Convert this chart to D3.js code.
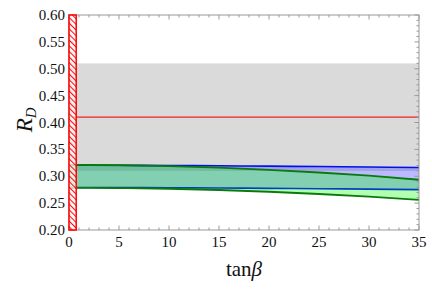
<!DOCTYPE html>
<html><head><meta charset="utf-8">
<script src="https://cdn.jsdelivr.net/npm/d3@7"></script>
<style>body{margin:0;background:#fff}svg{display:block}
.serif{font-family:"Liberation Serif","Times New Roman",Times,"DejaVu Serif","Noto Serif",serif}</style>
</head><body>
<script>
const tanBeta = [0, 5, 10, 15, 20, 25, 30, 35];
const blueUpper = [0.3205, 0.3204, 0.3200, 0.3195, 0.3188, 0.3180, 0.3172, 0.3162];
const blueLower = [0.2790, 0.2789, 0.2786, 0.2781, 0.2775, 0.2768, 0.2760, 0.2752];
const greenUpper = [0.3210, 0.3205, 0.3188, 0.3160, 0.3120, 0.3070, 0.3010, 0.2935];
const greenLower = [0.2785, 0.2780, 0.2767, 0.2744, 0.2712, 0.2670, 0.2621, 0.2562];
const expCentral = 0.41;
const expBand = [0.31, 0.51];
const excluded = [0, 0.72];
const xTicks = [0, 5, 10, 15, 20, 25, 30, 35];
const yTicks = [0.20, 0.25, 0.30, 0.35, 0.40, 0.45, 0.50, 0.55, 0.60];

const W = 432, H = 292;
const L = 69, R = 419, T = 15, B = 230;
const svg = d3.select("body").append("svg").attr("width", W).attr("height", H);
const x = d3.scaleLinear().domain([0, 35]).range([L, R]);
const y = d3.scaleLinear().domain([0.2, 0.6]).range([B, T]);

const defs = svg.append("defs");
defs.append("clipPath").attr("id", "clip").append("rect")
  .attr("x", L).attr("y", T).attr("width", R - L).attr("height", B - T);
const pat = defs.append("pattern").attr("id", "hatch").attr("patternUnits", "userSpaceOnUse")
  .attr("width", 4).attr("height", 4).attr("patternTransform", "rotate(-45)");
pat.append("rect").attr("width", 4).attr("height", 4).attr("fill", "rgba(255,255,255,0.75)");
pat.append("line").attr("x1", 0).attr("y1", 0).attr("x2", 0).attr("y2", 4)
  .attr("stroke", "#ff1010").attr("stroke-width", 2.2);

const g = svg.append("g").attr("clip-path", "url(#clip)");
g.append("rect").attr("x", L).attr("width", R - L)
  .attr("y", y(expBand[1])).attr("height", y(expBand[0]) - y(expBand[1]))
  .attr("fill", "#dadada");

const pts = tanBeta.map((t, i) => ({t, bu: blueUpper[i], bl: blueLower[i], gu: greenUpper[i], gl: greenLower[i]}));
const area = (lo, hi) => d3.area().x(d => x(d.t)).y0(d => y(d[lo])).y1(d => y(d[hi])).curve(d3.curveMonotoneX);
const line = k => d3.line().x(d => x(d.t)).y(d => y(d[k])).curve(d3.curveMonotoneX);

g.append("path").datum(pts).attr("d", area("bl", "bu")).attr("fill", "rgba(40,40,255,0.32)");
g.append("path").datum(pts).attr("d", area("gl", "gu")).attr("fill", "rgba(0,255,0,0.3)");

g.append("path").datum(pts).attr("d", line("bu")).attr("fill", "none").attr("stroke", "#0010ee").attr("stroke-width", 1.6);
g.append("path").datum(pts).attr("d", line("bl")).attr("fill", "none").attr("stroke", "#0040c0").attr("stroke-width", 1.6);
g.append("path").datum(pts).attr("d", line("gu")).attr("fill", "none").attr("stroke", "#0a7a0a").attr("stroke-width", 1.8);
g.append("path").datum(pts).attr("d", line("gl")).attr("fill", "none").attr("stroke", "#0a7a0a").attr("stroke-width", 1.8);

g.append("line").attr("x1", L).attr("x2", R).attr("y1", y(expCentral)).attr("y2", y(expCentral))
  .attr("stroke", "#ee2222").attr("stroke-width", 1.2);

const tickCol = "#999";
const ax = svg.append("g");
ax.append("rect").attr("x", L).attr("y", T).attr("width", R - L).attr("height", B - T)
  .attr("fill", "none").attr("stroke", tickCol).attr("stroke-width", 1);
d3.range(0, 35.01, 1).forEach(v => {
  const len = v % 5 === 0 ? 4.5 : 2.5;
  ax.append("line").attr("x1", x(v)).attr("x2", x(v)).attr("y1", B).attr("y2", B - len).attr("stroke", tickCol);
  ax.append("line").attr("x1", x(v)).attr("x2", x(v)).attr("y1", T).attr("y2", T + len).attr("stroke", tickCol);
});
d3.range(0, 41).forEach(i => {
  const v = 0.2 + i * 0.01;
  const len = i % 5 === 0 ? 4.5 : 2.5;
  ax.append("line").attr("y1", y(v)).attr("y2", y(v)).attr("x1", L).attr("x2", L + len).attr("stroke", tickCol);
  ax.append("line").attr("y1", y(v)).attr("y2", y(v)).attr("x1", R).attr("x2", R - len).attr("stroke", tickCol);
});

svg.append("rect").attr("x", x(excluded[0])).attr("y", T)
  .attr("width", x(excluded[1]) - x(excluded[0])).attr("height", B - T)
  .attr("fill", "url(#hatch)").attr("stroke", "#ff0000").attr("stroke-width", 1.5);

svg.append("g").attr("class", "serif").selectAll("text").data(xTicks).join("text")
  .attr("x", d => x(d)).attr("y", B + 17).attr("text-anchor", "middle")
  .attr("font-size", 15).attr("fill", "#111").text(d => d);
svg.append("g").attr("class", "serif").selectAll("text").data(yTicks).join("text")
  .attr("x", L - 4).attr("y", d => y(d) + 5).attr("text-anchor", "end")
  .attr("font-size", 15).attr("fill", "#111").text(d => d.toFixed(2));

const xl = svg.append("text").attr("class", "serif").attr("x", x(17.5)).attr("y", 276).attr("text-anchor", "middle")
  .attr("font-size", 21).attr("fill", "#111");
xl.append("tspan").text("tan");
xl.append("tspan").attr("font-style", "italic").text("β");

const yl = svg.append("text").attr("class", "serif").attr("transform", `translate(32,${y(0.405)}) rotate(-90)`)
  .attr("text-anchor", "middle").attr("font-size", 23).attr("fill", "#111");
yl.append("tspan").attr("font-style", "italic").text("R");
yl.append("tspan").attr("font-style", "italic").attr("font-size", 15).attr("dy", 4).text("D");
</script>
</body></html>
